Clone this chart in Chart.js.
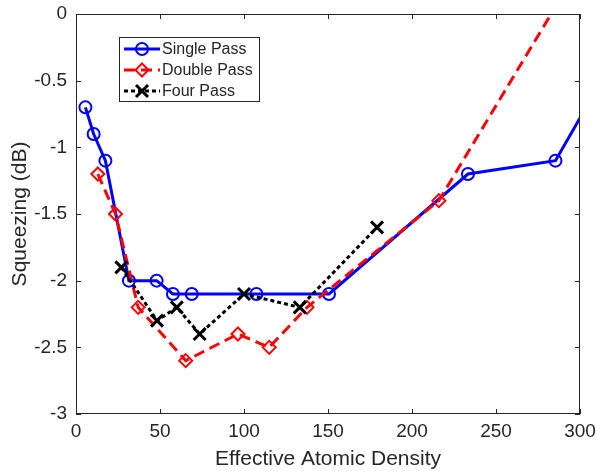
<!DOCTYPE html>
<html>
<head>
<meta charset="utf-8">
<script src="https://cdn.jsdelivr.net/npm/chart.js@4"></script>
<style>
  html, body { margin: 0; padding: 0; background: #fff; }
  #wrap { width: 597px; height: 471px; }
</style>
</head>
<body>
<div id="wrap"><canvas id="chart" width="597" height="471"></canvas></div>
<script>
// values
const seriesNames = ['Single Pass', 'Double Pass', 'Four Pass'];

const singleX = [5.6, 10.5, 17.5, 31.5, 48, 57.7, 68.9, 107.4, 150.6, 233.3, 285.4, 310];
const singleY = [-0.7, -0.9, -1.1, -2.0, -2.0, -2.1, -2.1, -2.1, -2.1, -1.2, -1.1, -0.56];

const doubleX = [13, 23.5, 37, 65.3, 96.4, 115, 137.5, 216, 300];
const doubleY = [-1.2, -1.5, -2.2, -2.6, -2.4, -2.5, -2.2, -1.4, 0.36];

const fourX = [27, 48.2, 60, 73.6, 100, 133.2, 179.2];
const fourY = [-1.9, -2.3, -2.2, -2.4, -2.1, -2.2, -1.6];

const xTicks = [0, 50, 100, 150, 200, 250, 300];
const yTicks = [-3, -2.5, -2, -1.5, -1, -0.5, 0];

const FONT = "'Liberation Sans', Arial, Helvetica, sans-serif";
const AXIS = '#262626';

function pts(xs, ys) {
    return xs.map((x, i) => ({ x: x, y: ys[i] }));
}

// box round the plot with inward ticks, like matlab
const boxPlugin = {
    id: 'box',
    afterDatasetsDraw(chart) {
        const { ctx, chartArea: a, scales } = chart;
        ctx.save();
        ctx.strokeStyle = AXIS;
        ctx.lineWidth = 1;
        ctx.strokeRect(a.left + 0.5, a.top + 0.5, a.right - a.left - 1, a.bottom - a.top - 1);
        const len = 5;
        ctx.beginPath();
        xTicks.forEach(v => {
            const px = Math.round(scales.x.getPixelForValue(v)) + 0.5;
            ctx.moveTo(px, a.bottom); ctx.lineTo(px, a.bottom - len);
            ctx.moveTo(px, a.top); ctx.lineTo(px, a.top + len);
        });
        yTicks.forEach(v => {
            const py = Math.round(scales.y.getPixelForValue(v)) + 0.5;
            ctx.moveTo(a.left, py); ctx.lineTo(a.left + len, py);
            ctx.moveTo(a.right, py); ctx.lineTo(a.right - len, py);
        });
        ctx.stroke();
        ctx.restore();
    }
};

function marker(ctx, style, x, y) {
    ctx.beginPath();
    if (style === 'circle') {
        ctx.arc(x, y, 6, 0, Math.PI * 2);
    } else if (style === 'diamond') {
        ctx.moveTo(x, y - 6.5); ctx.lineTo(x + 6.5, y);
        ctx.lineTo(x, y + 6.5); ctx.lineTo(x - 6.5, y);
        ctx.closePath();
    } else {
        ctx.moveTo(x - 6, y - 6); ctx.lineTo(x + 6, y + 6);
        ctx.moveTo(x + 6, y - 6); ctx.lineTo(x - 6, y + 6);
    }
    ctx.stroke();
}

const legendPlugin = {
    id: 'insideLegend',
    afterDraw(chart) {
        const ctx = chart.ctx;
        const left = 119, top = 37, w = 140, h = 64;
        const rows = [
            { color: '#0000ff', dash: [], mk: 'circle', mw: 2 },
            { color: '#ff0000', dash: [11, 6], mk: 'diamond', mw: 2 },
            { color: '#000000', dash: [4, 3], mk: 'cross', mw: 3 }
        ];
        ctx.save();
        ctx.fillStyle = '#fff';
        ctx.fillRect(left, top, w, h);
        ctx.strokeStyle = AXIS;
        ctx.lineWidth = 1;
        ctx.strokeRect(left + 0.5, top + 0.5, w, h);
        ctx.font = '16px ' + FONT;
        ctx.textBaseline = 'middle';
        rows.forEach((r, i) => {
            const y = top + 12 + i * 21;
            ctx.strokeStyle = r.color;
            ctx.lineWidth = 3;
            ctx.setLineDash(r.dash);
            ctx.beginPath();
            ctx.moveTo(124, y); ctx.lineTo(160, y);
            ctx.stroke();
            ctx.setLineDash([]);
            ctx.lineWidth = r.mw;
            marker(ctx, r.mk, 142, y);
            ctx.fillStyle = AXIS;
            ctx.fillText(seriesNames[i], 162, y + 1);
        });
        ctx.restore();
    }
};

new Chart(document.getElementById('chart'), {
    type: 'scatter',
    data: {
        datasets: [
            {
                label: seriesNames[0],
                data: pts(singleX, singleY),
                showLine: true,
                borderColor: '#0000ff',
                borderWidth: 3,
                pointStyle: 'circle',
                pointRadius: 6,
                pointBorderWidth: 2,
                pointBorderColor: '#0000ff',
                pointBackgroundColor: 'rgba(0,0,0,0)',
                order: 3
            },
            {
                label: seriesNames[1],
                data: pts(doubleX, doubleY),
                showLine: true,
                borderColor: '#ff0000',
                borderWidth: 3,
                borderDash: [11, 6],
                pointStyle: 'rectRot',
                pointRadius: 6.5,
                pointBorderWidth: 2,
                pointBorderColor: '#ff0000',
                pointBackgroundColor: 'rgba(0,0,0,0)',
                order: 2
            },
            {
                label: seriesNames[2],
                data: pts(fourX, fourY),
                showLine: true,
                borderColor: '#000000',
                borderWidth: 3,
                borderDash: [4, 3],
                pointStyle: 'crossRot',
                pointRadius: 8.5,
                pointBorderWidth: 3,
                pointBorderColor: '#000000',
                order: 1
            }
        ]
    },
    options: {
        responsive: false,
        animation: false,
        clip: 0,
        layout: { padding: { left: 0, right: 17, top: 14, bottom: 0 } },
        plugins: {
            legend: { display: false },
            tooltip: { enabled: false }
        },
        scales: {
            x: {
                type: 'linear',
                min: 0, max: 300,
                afterFit: s => { s.height = 57; s.paddingLeft = 0; s.paddingRight = 0; },
                afterBuildTicks: s => { s.ticks = xTicks.map(v => ({ value: v })); },
                grid: { display: false, drawTicks: false },
                border: { display: false },
                ticks: { color: AXIS, font: { family: FONT, size: 19 }, padding: 6, maxRotation: 0,
                         callback: v => String(v) },
                title: { display: true, text: 'Effective Atomic Density', color: AXIS,
                         font: { family: FONT, size: 21, lineHeight: 1 }, padding: { top: 0, bottom: 1 } }
            },
            y: {
                type: 'linear',
                min: -3, max: 0,
                afterFit: s => { s.width = 76; s.paddingTop = 0; s.paddingBottom = 0; },
                afterBuildTicks: s => { s.ticks = yTicks.map(v => ({ value: v })); },
                grid: { display: false, drawTicks: false },
                border: { display: false },
                ticks: { color: AXIS, font: { family: FONT, size: 19 }, padding: 9,
                         callback: v => String(v) },
                title: { display: true, text: 'Squeezing (dB)', color: AXIS,
                         font: { family: FONT, size: 21, lineHeight: 1 }, padding: { top: 10, bottom: 0 } }
            }
        }
    },
    plugins: [boxPlugin, legendPlugin]
});
</script>
</body>
</html>
